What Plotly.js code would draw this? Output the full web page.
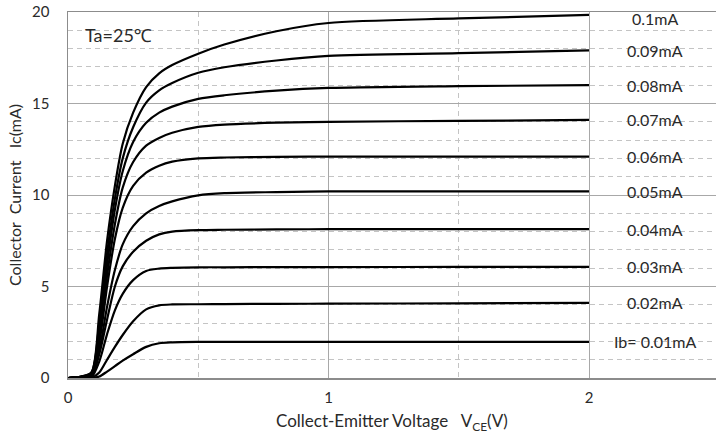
<!DOCTYPE html>
<html><head><meta charset="utf-8">
<script src="https://cdn.plot.ly/plotly-3.0.1.min.js"></script>
<style>html,body{margin:0;padding:0;background:#fff}#c{width:716px;height:438px}</style>
</head><body><div id="c"></div>
<script>
// Collector-emitter voltage (V) sample points, shared by all curves
const vce = [0, 0.05, 0.09, 0.12, 0.15, 0.18, 0.21, 0.25, 0.3, 0.35, 0.4, 0.5, 0.6, 0.8, 1.0, 1.5, 2.0];
// Collector current Ic (mA) for each base current
const ic_010 = [0, 0.08, 0.3, 3.5, 7.5, 10.5, 12.8, 14.5, 15.9, 16.65, 17.1, 17.72, 18.22, 18.95, 19.4, 19.65, 19.84];
const ic_009 = [0, 0.07, 0.3, 3.0, 6.8, 9.8, 12.0, 13.7, 15.05, 15.72, 16.12, 16.68, 16.98, 17.35, 17.6, 17.75, 17.9];
const ic_008 = [0, 0.07, 0.25, 2.6, 6.2, 9.2, 11.3, 12.9, 13.95, 14.5, 14.83, 15.25, 15.45, 15.7, 15.85, 15.95, 16.0];
const ic_007 = [0, 0.06, 0.2, 2.2, 5.6, 8.4, 10.4, 11.8, 12.7, 13.12, 13.4, 13.72, 13.85, 13.95, 14.0, 14.05, 14.1];
const ic_006 = [0, 0.06, 0.2, 1.9, 5.0, 7.6, 9.3, 10.5, 11.22, 11.6, 11.82, 12.0, 12.05, 12.08, 12.1, 12.1, 12.1];
const ic_005 = [0, 0.05, 0.15, 1.5, 3.9, 5.9, 7.3, 8.3, 9.0, 9.4, 9.65, 9.98, 10.1, 10.16, 10.2, 10.2, 10.2];
const ic_004 = [0, 0.05, 0.1, 1.3, 3.2, 5.0, 6.1, 6.9, 7.5, 7.85, 8.0, 8.08, 8.1, 8.12, 8.13, 8.14, 8.14];
const ic_003 = [0, 0.04, 0.05, 0.9, 2.4, 3.7, 4.6, 5.35, 5.85, 5.98, 6.02, 6.05, 6.05, 6.06, 6.06, 6.07, 6.07];
const ic_002 = [0, 0.03, 0.02, 0.3, 1.0, 1.7, 2.35, 3.1, 3.75, 3.97, 4.02, 4.03, 4.04, 4.05, 4.06, 4.08, 4.1];
const ic_001 = [0, 0.02, 0.0, 0.08, 0.35, 0.65, 0.95, 1.3, 1.7, 1.9, 1.95, 1.97, 1.97, 1.97, 1.97, 1.97, 1.97];
const series = [ic_010, ic_009, ic_008, ic_007, ic_006, ic_005, ic_004, ic_003, ic_002, ic_001];
const labels = ["0.1mA", "0.09mA", "0.08mA", "0.07mA", "0.06mA", "0.05mA", "0.04mA", "0.03mA", "0.02mA", "Ib= 0.01mA"];
const xTicks = [0, 1, 2];
const yTicks = [0, 5, 10, 15, 20];

const font = "Lato, 'Noto Sans', sans-serif";
const tc = '#2a2a2a';
const traces = series.map((ys, i) => ({
  x: vce, y: ys, type: 'scatter', mode: 'lines', name: labels[i],
  line: {color: '#000', width: 2.2, shape: 'spline', smoothing: 0.8},
  hoverinfo: 'skip', showlegend: false
}));

const annotations = series.map((ys, i) => ({
  x: 2.253, y: ys[ys.length - 1] - (i === 0 ? 0.22 : 0), xref: 'x', yref: 'y',
  text: labels[i], showarrow: false, xanchor: 'center', yanchor: 'middle',
  font: {family: font, size: 16, color: tc}
}));
annotations.push({
  x: 0.058, y: 18.74, xref: 'x', yref: 'y', text: 'Ta=25℃', showarrow: false,
  xanchor: 'left', yanchor: 'middle', font: {family: font, size: 18, color: tc}
});
annotations.push({
  x: 0.5, y: -0.12, xref: 'paper', yref: 'paper',
  text: 'Collect-Emitter Voltage&nbsp;&nbsp; V<sub>CE</sub>(V)', showarrow: false,
  xanchor: 'center', yanchor: 'middle', font: {family: font, size: 17, color: tc}
});
annotations.push({
  x: (14 - 68) / 648, y: 0.5, xref: 'paper', yref: 'paper', textangle: -90,
  text: 'Collector&nbsp; Current&nbsp;&nbsp; Ic(mA)', showarrow: false,
  xanchor: 'center', yanchor: 'middle', font: {family: font, size: 16, color: tc}
});

const layout = {
  width: 716, height: 438,
  margin: {l: 68, r: 0, t: 12, b: 60},
  paper_bgcolor: '#fff', plot_bgcolor: '#fff',
  showlegend: false,
  xaxis: {
    range: [0, 2.4875], tickvals: xTicks, ticktext: xTicks.map(String),
    showgrid: true, gridcolor: '#a8a8a8', gridwidth: 1,
    minor: {dtick: 0.5, tick0: 0, showgrid: true, gridcolor: '#c4c4c4', griddash: '5px,4px', gridwidth: 1},
    showline: true, linecolor: '#8c8c8c', linewidth: 1.5, mirror: true,
    zeroline: false, ticks: '', ticklabelstandoff: 5,
    tickfont: {family: font, size: 15, color: tc}, fixedrange: true
  },
  yaxis: {
    range: [0, 20], tickvals: yTicks, ticktext: yTicks.map(String),
    showgrid: true, gridcolor: '#a8a8a8', gridwidth: 1,
    minor: {dtick: 1, tick0: 0, showgrid: true, gridcolor: '#c4c4c4', griddash: '5px,4px', gridwidth: 1},
    showline: true, linecolor: '#8c8c8c', linewidth: 1.5, mirror: true,
    zeroline: false, ticks: '', ticklabelstandoff: 14,
    tickfont: {family: font, size: 15, color: tc}, fixedrange: true
  },
  annotations: annotations
};
Plotly.newPlot('c', traces, layout, {displayModeBar: false, staticPlot: true});
</script>
</body></html>
